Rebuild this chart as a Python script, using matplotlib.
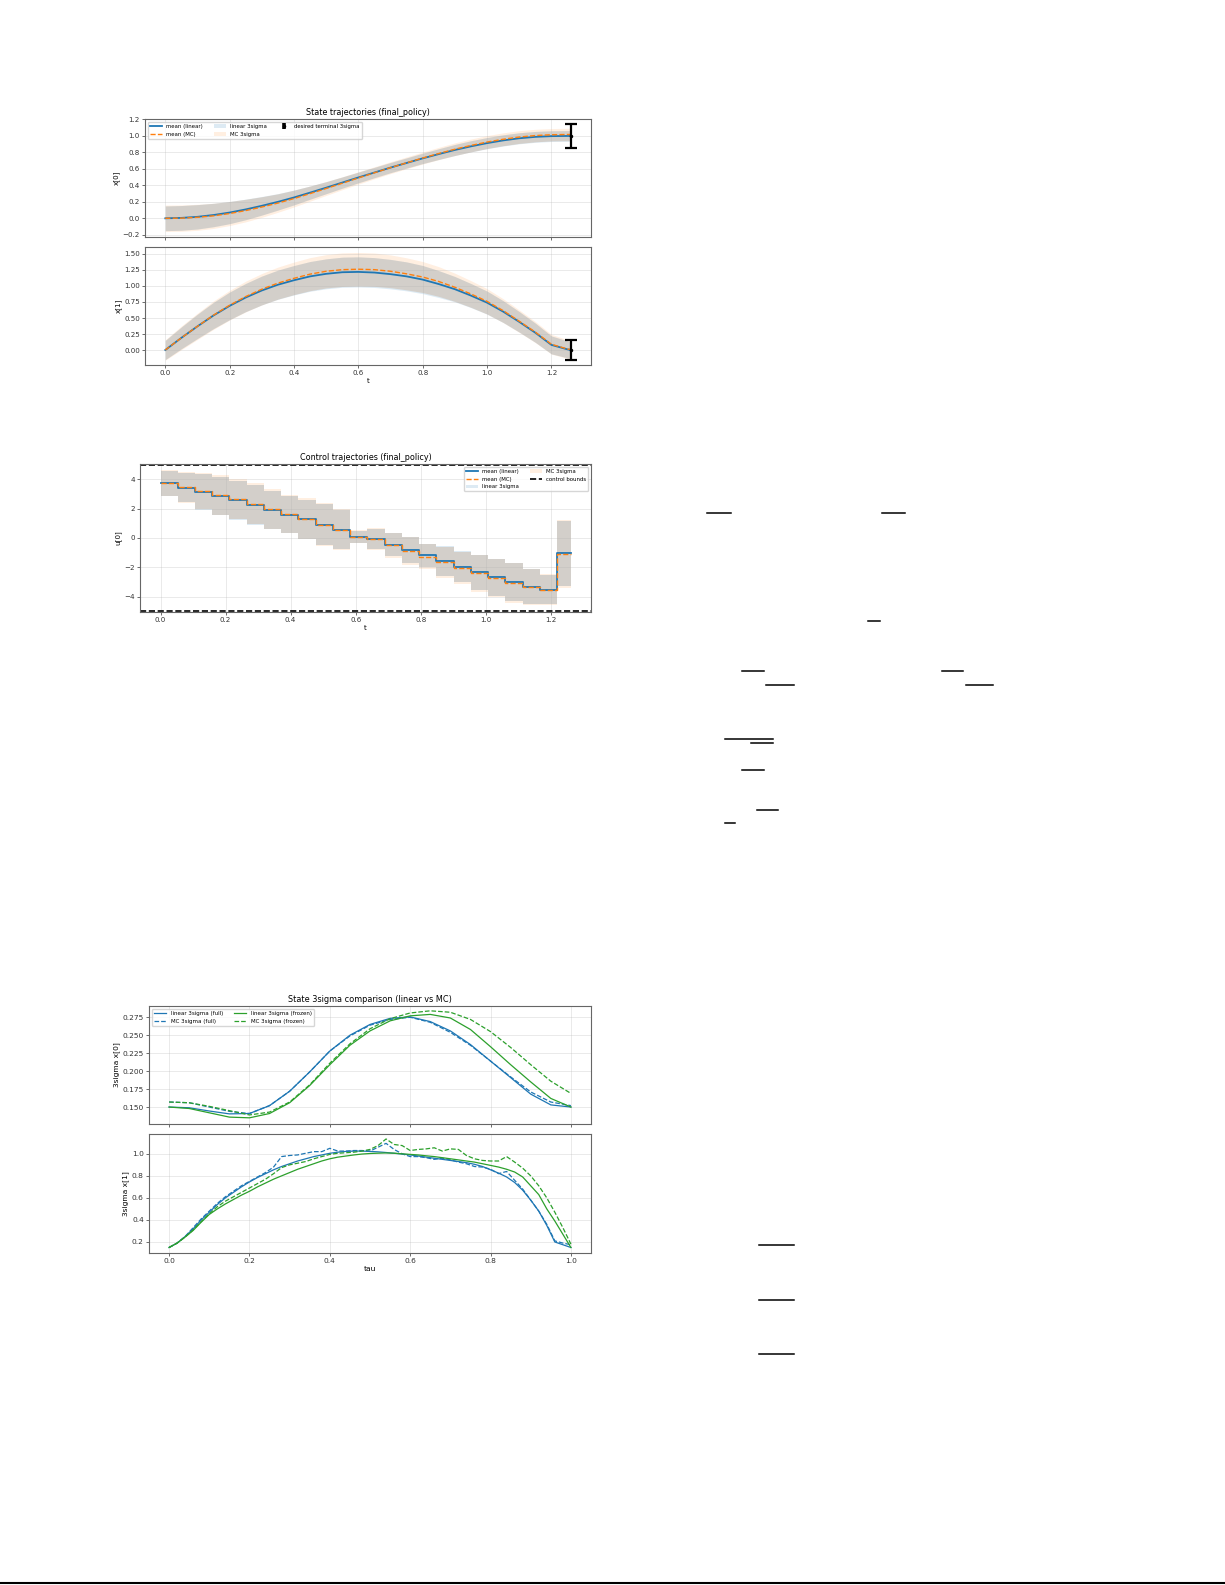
import numpy as np
import matplotlib
matplotlib.use('Agg')
from matplotlib import pyplot as plt
from matplotlib.lines import Line2D
from matplotlib.patches import Patch

# ---- state trajectories (final_policy) ----
t_state = [0.0, 0.05, 0.1, 0.15, 0.2, 0.25, 0.3, 0.35, 0.4, 0.45, 0.5, 0.55, 0.6, 0.65,
           0.7, 0.75, 0.8, 0.85, 0.9, 0.95, 1.0, 1.05, 1.1, 1.15, 1.2, 1.25, 1.26]
x0_mean_lin = [0.000, 0.005, 0.018, 0.040, 0.070, 0.108, 0.152, 0.200, 0.253, 0.312, 0.372, 0.434,
               0.496, 0.556, 0.616, 0.672, 0.728, 0.780, 0.830, 0.874, 0.913, 0.946, 0.972, 0.989,
               0.998, 1.000, 1.000]
x0_mean_mc = [0.000, 0.002, 0.012, 0.030, 0.058, 0.094, 0.137, 0.185, 0.240, 0.300, 0.362, 0.426,
              0.490, 0.553, 0.615, 0.674, 0.732, 0.787, 0.839, 0.885, 0.926, 0.960, 0.987, 1.005,
              1.015, 1.018, 1.018]
x0_3sig_lin = [0.150, 0.150, 0.148, 0.142, 0.135, 0.125, 0.113, 0.100, 0.090, 0.080, 0.073, 0.068,
               0.065, 0.063, 0.062, 0.062, 0.063, 0.065, 0.067, 0.068, 0.068, 0.068, 0.067, 0.066,
               0.065, 0.065, 0.065]
x0_3sig_mc = [0.160, 0.160, 0.158, 0.153, 0.146, 0.137, 0.125, 0.112, 0.102, 0.092, 0.084, 0.078,
              0.075, 0.073, 0.072, 0.072, 0.073, 0.075, 0.077, 0.078, 0.078, 0.078, 0.077, 0.076,
              0.075, 0.075, 0.075]
x1_mean_lin = [0.00, 0.19, 0.37, 0.54, 0.69, 0.82, 0.93, 1.02, 1.09, 1.15, 1.19, 1.215, 1.22, 1.21,
               1.185, 1.15, 1.10, 1.03, 0.95, 0.85, 0.74, 0.60, 0.44, 0.27, 0.08, 0.01, 0.00]
x1_mean_mc = [0.00, 0.19, 0.37, 0.545, 0.70, 0.835, 0.95, 1.045, 1.12, 1.185, 1.23, 1.255, 1.262,
              1.255, 1.23, 1.19, 1.14, 1.07, 0.98, 0.875, 0.76, 0.615, 0.45, 0.28, 0.09, 0.015, 0.01]
x1_3sig_lin = [0.150, 0.170, 0.190, 0.205, 0.215, 0.220, 0.225, 0.228, 0.230, 0.232, 0.234, 0.235,
               0.235, 0.233, 0.230, 0.226, 0.220, 0.210, 0.198, 0.188, 0.180, 0.170, 0.160, 0.150,
               0.140, 0.132, 0.130]
x1_3sig_mc = [0.160, 0.185, 0.205, 0.222, 0.232, 0.240, 0.245, 0.250, 0.254, 0.258, 0.260, 0.262,
              0.262, 0.260, 0.256, 0.250, 0.242, 0.232, 0.220, 0.208, 0.198, 0.186, 0.175, 0.164,
              0.154, 0.146, 0.144]
t_final = 1.26
target_mean = [1.0, 0.0]
target_3sig = [0.15, 0.15]

# ---- control trajectories (final_policy) ----
t_ctrl = [0.0, 0.053, 0.106, 0.159, 0.212, 0.265, 0.318, 0.371, 0.424, 0.477, 0.530, 0.583, 0.636,
          0.689, 0.742, 0.795, 0.848, 0.901, 0.954, 1.007, 1.060, 1.113, 1.166, 1.219, 1.26]
u_mean_lin = [3.75, 3.44, 3.14, 2.87, 2.56, 2.24, 1.90, 1.60, 1.27, 0.90, 0.57, 0.09, -0.08,
              -0.45, -0.81, -1.18, -1.56, -1.95, -2.33, -2.69, -3.03, -3.33, -3.52, -1.05]
u_mean_mc = [3.75, 3.46, 3.20, 2.95, 2.65, 2.33, 1.98, 1.66, 1.30, 0.92, 0.57, 0.08, -0.10,
             -0.50, -0.88, -1.27, -1.66, -2.05, -2.42, -2.76, -3.07, -3.35, -3.54, -1.08]
u_3sig_lin = [0.85, 1.00, 1.20, 1.30, 1.30, 1.35, 1.30, 1.25, 1.35, 1.40, 1.35, 0.40, 0.70,
              0.80, 0.90, 0.80, 1.00, 1.05, 1.20, 1.25, 1.30, 1.20, 1.00, 2.20]
u_3sig_mc = [0.90, 1.05, 1.25, 1.35, 1.35, 1.40, 1.35, 1.30, 1.40, 1.45, 1.40, 0.45, 0.75,
             0.85, 0.95, 0.85, 1.05, 1.10, 1.25, 1.30, 1.35, 1.25, 1.05, 2.30]
u_bound = 5.0

# ---- state 3sigma comparison ----
tau_a = [0.0, 0.05, 0.1, 0.15, 0.2, 0.25, 0.3, 0.35, 0.4, 0.45, 0.5, 0.55, 0.6, 0.65, 0.7,
         0.75, 0.8, 0.85, 0.9, 0.95, 1.0]
sx0_lin_full = [0.150, 0.149, 0.1445, 0.1405, 0.141, 0.152, 0.172, 0.199, 0.228, 0.250, 0.265,
                0.2735, 0.2755, 0.269, 0.256, 0.237, 0.214, 0.191, 0.168, 0.153, 0.150]
sx0_mc_full = [0.157, 0.156, 0.150, 0.144, 0.141, 0.152, 0.172, 0.199, 0.228, 0.249, 0.264,
               0.272, 0.275, 0.268, 0.254, 0.236, 0.214, 0.192, 0.171, 0.157, 0.152]
sx0_lin_frozen = [0.150, 0.148, 0.142, 0.136, 0.135, 0.141, 0.156, 0.180, 0.209, 0.236, 0.256,
                  0.270, 0.277, 0.279, 0.274, 0.258, 0.234, 0.209, 0.185, 0.162, 0.150]
sx0_mc_frozen = [0.157, 0.156, 0.151, 0.145, 0.139, 0.143, 0.157, 0.181, 0.211, 0.238, 0.259,
                 0.273, 0.281, 0.284, 0.282, 0.272, 0.255, 0.233, 0.209, 0.186, 0.169]

tau_b = [0.00, 0.02, 0.04, 0.06, 0.08, 0.10, 0.12, 0.14, 0.16, 0.18, 0.20, 0.22, 0.24, 0.26,
         0.28, 0.30, 0.32, 0.34, 0.36, 0.38, 0.40, 0.42, 0.44, 0.46, 0.48, 0.50, 0.52, 0.54,
         0.56, 0.58, 0.60, 0.62, 0.64, 0.66, 0.68, 0.70, 0.72, 0.74, 0.76, 0.78, 0.80, 0.82,
         0.84, 0.86, 0.88, 0.90, 0.92, 0.94, 0.96, 0.98, 1.00]
sx1_lin_full = [0.15, 0.19, 0.25, 0.32, 0.40, 0.47, 0.54, 0.60, 0.65, 0.70, 0.745, 0.785, 0.82,
                0.855, 0.885, 0.91, 0.935, 0.955, 0.975, 0.99, 1.005, 1.015, 1.022, 1.025, 1.025,
                1.022, 1.018, 1.012, 1.005, 0.998, 0.99, 0.98, 0.97, 0.96, 0.95, 0.94, 0.93,
                0.92, 0.905, 0.885, 0.855, 0.825, 0.79, 0.74, 0.67, 0.58, 0.48, 0.35, 0.20,
                0.175, 0.15]
sx1_mc_full = [0.15, 0.19, 0.25, 0.33, 0.41, 0.48, 0.55, 0.61, 0.66, 0.71, 0.75, 0.79, 0.83,
               0.88, 0.975, 0.985, 0.99, 1.005, 1.02, 1.02, 1.05, 1.025, 1.025, 1.03, 1.03,
               1.025, 1.06, 1.095, 1.04, 1.0, 0.975, 0.975, 0.965, 0.95, 0.96, 0.945, 0.925,
               0.91, 0.885, 0.88, 0.86, 0.82, 0.84, 0.76, 0.68, 0.58, 0.48, 0.36, 0.21, 0.19,
               0.175]
sx1_lin_frozen = [0.15, 0.19, 0.245, 0.305, 0.38, 0.45, 0.50, 0.545, 0.585, 0.625, 0.66, 0.70,
                  0.735, 0.77, 0.80, 0.83, 0.86, 0.885, 0.91, 0.935, 0.955, 0.97, 0.98, 0.99,
                  0.998, 1.003, 1.006, 1.008, 1.006, 1.0, 0.995, 0.99, 0.982, 0.975, 0.965, 0.955,
                  0.945, 0.935, 0.925, 0.91, 0.895, 0.88, 0.86, 0.835, 0.79, 0.71, 0.63, 0.50,
                  0.39, 0.27, 0.15]
sx1_mc_frozen = [0.15, 0.19, 0.245, 0.31, 0.385, 0.455, 0.52, 0.57, 0.61, 0.65, 0.69, 0.73,
                 0.77, 0.82, 0.875, 0.90, 0.915, 0.93, 0.955, 0.975, 0.995, 1.005, 1.01, 1.015,
                 1.025, 1.04, 1.075, 1.135, 1.085, 1.075, 1.03, 1.04, 1.045, 1.055, 1.025, 1.045,
                 1.04, 0.985, 0.955, 0.94, 0.935, 0.935, 0.975, 0.925, 0.87, 0.80, 0.71, 0.60,
                 0.47, 0.33, 0.18]

W, H = 1225, 1585
fig = plt.figure(figsize=(W / 100, H / 100), dpi=100)


def box(x0, y0, x1, y1):
    # pixel box on the page -> figure fraction
    return [x0 / W, 1 - y1 / H, (x1 - x0) / W, (y1 - y0) / H]


def style(ax, fs=5.1):
    ax.grid(True, alpha=0.3, lw=0.6)
    ax.tick_params(labelsize=fs, length=2.2, width=0.5, pad=1.5, colors='0.2')
    for s in ax.spines.values():
        s.set_linewidth(0.8)
        s.set_color('0.4')


# figure 1: states
ax_a = fig.add_axes(box(145, 119, 591, 237))
ax_b = fig.add_axes(box(145, 247, 591, 365), sharex=ax_a)
t = np.array(t_state)
rows = [(ax_a, x0_mean_lin, x0_mean_mc, x0_3sig_lin, x0_3sig_mc, 'x[0]'),
        (ax_b, x1_mean_lin, x1_mean_mc, x1_3sig_lin, x1_3sig_mc, 'x[1]')]
for i, (ax, m_lin, m_mc, s_lin, s_mc, lab) in enumerate(rows):
    m_lin, m_mc = np.array(m_lin), np.array(m_mc)
    s_lin, s_mc = np.array(s_lin), np.array(s_mc)
    ax.fill_between(t, m_lin - s_lin, m_lin + s_lin, color='C0', alpha=0.15, lw=0)
    ax.fill_between(t, m_mc - s_mc, m_mc + s_mc, color='C1', alpha=0.12, lw=0)
    lo = np.maximum(m_lin - s_lin, m_mc - s_mc)
    hi = np.minimum(m_lin + s_lin, m_mc + s_mc)
    ax.fill_between(t, lo, hi, color='0.55', alpha=0.16, lw=0)
    ax.plot(t, m_lin, color='C0', lw=1.3)
    ax.plot(t, m_mc, '--', color='C1', lw=1.0)
    ax.errorbar(t_final, target_mean[i], yerr=target_3sig[i], fmt='o', color='k', ms=1.5,
                capsize=4, elinewidth=1.6, capthick=1.6)
    ax.set_ylabel(lab, fontsize=5.1, labelpad=2)
    style(ax)
ax_a.set_xlim(-0.063, 1.323)
ax_a.set_ylim(-0.227, 1.206)
ax_a.set_yticks(np.arange(-0.2, 1.21, 0.2))
ax_b.set_ylim(-0.234, 1.609)
ax_b.set_yticks(np.arange(0, 1.51, 0.25))
ax_a.tick_params(labelbottom=False)
ax_b.set_xlabel('t', fontsize=5.1, labelpad=1)
ax_a.set_title('State trajectories (final_policy)', fontsize=5.8, pad=3)
err_handle = ax_a.errorbar([], [], yerr=[], fmt='o', color='k', ms=1.5, capsize=5,
                           elinewidth=2.6, capthick=2.6)
handles = [Line2D([], [], color='C0', lw=1.3), Line2D([], [], color='C1', ls='--', lw=1.0),
           Patch(color='C0', alpha=0.15, lw=0), Patch(color='C1', alpha=0.12, lw=0), err_handle]
labels = ['mean (linear)', 'mean (MC)', 'linear 3sigma', 'MC 3sigma', 'desired terminal 3sigma']
ax_a.legend(handles, labels, loc='upper left', ncol=3, fontsize=3.9, frameon=True,
            borderpad=0.4, handlelength=2.2, columnspacing=2.0, labelspacing=0.5)

# figure 2: control
ax_c = fig.add_axes(box(140, 464, 591, 612))
tc = np.array(t_ctrl)
ul, um = np.array(u_mean_lin + u_mean_lin[-1:]), np.array(u_mean_mc + u_mean_mc[-1:])
sl, sm = np.array(u_3sig_lin + u_3sig_lin[-1:]), np.array(u_3sig_mc + u_3sig_mc[-1:])
ax_c.fill_between(tc, ul - sl, ul + sl, step='post', color='C0', alpha=0.15, lw=0)
ax_c.fill_between(tc, um - sm, um + sm, step='post', color='C1', alpha=0.12, lw=0)
ax_c.fill_between(tc, np.maximum(ul - sl, um - sm), np.minimum(ul + sl, um + sm), step='post',
                  color='0.55', alpha=0.16, lw=0)
ax_c.step(tc, ul, where='post', color='C0', lw=1.3)
ax_c.step(tc, um, where='post', color='C1', ls='--', lw=1.0)
ax_c.axhline(u_bound, color='k', ls='--', lw=1.2)
ax_c.axhline(-u_bound, color='k', ls='--', lw=1.2)
ax_c.set_xlim(-0.063, 1.323)
ax_c.set_ylim(-5.05, 5.05)
ax_c.set_yticks([-4, -2, 0, 2, 4])
ax_c.set_ylabel('u[0]', fontsize=5.1, labelpad=2)
ax_c.set_xlabel('t', fontsize=5.1, labelpad=1)
ax_c.set_title('Control trajectories (final_policy)', fontsize=5.8, pad=3)
style(ax_c)
handles = [Line2D([], [], color='C0', lw=1.3), Line2D([], [], color='C1', ls='--', lw=1.0),
           Patch(color='C0', alpha=0.15, lw=0), Patch(color='C1', alpha=0.12, lw=0),
           Line2D([], [], color='k', ls='--', lw=1.2)]
labels = ['mean (linear)', 'mean (MC)', 'linear 3sigma', 'MC 3sigma', 'control bounds']
ax_c.legend(handles, labels, loc='upper right', ncol=2, fontsize=3.9, frameon=True,
            borderpad=0.4, handlelength=2.2, columnspacing=2.0, labelspacing=0.5)

# figure 3: 3sigma comparison
ax_d = fig.add_axes(box(149, 1006, 591, 1124))
ax_e = fig.add_axes(box(149, 1134, 591, 1253), sharex=ax_d)
ax_d.plot(tau_a, sx0_lin_full, color='C0', lw=0.9, label='linear 3sigma (full)')
ax_d.plot(tau_a, sx0_mc_full, color='C0', ls='--', lw=0.9, label='MC 3sigma (full)')
ax_d.plot(tau_a, sx0_lin_frozen, color='C2', lw=0.9, label='linear 3sigma (frozen)')
ax_d.plot(tau_a, sx0_mc_frozen, color='C2', ls='--', lw=0.9, label='MC 3sigma (frozen)')
ax_e.plot(tau_b, sx1_lin_full, color='C0', lw=0.9)
ax_e.plot(tau_b, sx1_mc_full, color='C0', ls='--', lw=0.9)
ax_e.plot(tau_b, sx1_lin_frozen, color='C2', lw=0.9)
ax_e.plot(tau_b, sx1_mc_frozen, color='C2', ls='--', lw=0.9)
ax_d.set_xlim(-0.05, 1.05)
ax_d.set_ylim(0.1264, 0.2907)
ax_d.set_yticks([0.150, 0.175, 0.200, 0.225, 0.250, 0.275])
ax_e.set_ylim(0.10, 1.18)
ax_e.set_yticks([0.2, 0.4, 0.6, 0.8, 1.0])
ax_d.tick_params(labelbottom=False)
for ax, lab in [(ax_d, '3sigma x[0]'), (ax_e, '3sigma x[1]')]:
    style(ax, fs=5.4)
    ax.set_ylabel(lab, fontsize=5.4, labelpad=2)
ax_e.set_xlabel('tau', fontsize=5.4, labelpad=1)
ax_d.set_title('State 3sigma comparison (linear vs MC)', fontsize=5.9, pad=3)
ax_d.legend(loc='upper left', ncol=2, fontsize=4.0, frameon=True, borderpad=0.4,
            handlelength=2.2, columnspacing=2.0, labelspacing=0.5)

# stray rules on the page (fraction bars from the surrounding text)
page_rules = [(707, 731, 513), (882, 905, 513), (868, 880, 621), (742, 764, 671),
              (942, 963, 671), (766, 794, 685), (966, 993, 685), (725, 773, 739),
              (751, 773, 743), (742, 764, 770), (757, 778, 810), (725, 735, 823),
              (759, 794, 1245), (759, 794, 1300), (759, 794, 1354)]
for x0, x1, y in page_rules:
    fig.add_artist(Line2D([x0 / W, x1 / W], [1 - y / H, 1 - y / H], color='k', lw=1.1))
fig.add_artist(Line2D([0, 1], [1 - 1583 / H, 1 - 1583 / H], color='k', lw=1.5))

fig.savefig('out.png', dpi=100, facecolor='white')
